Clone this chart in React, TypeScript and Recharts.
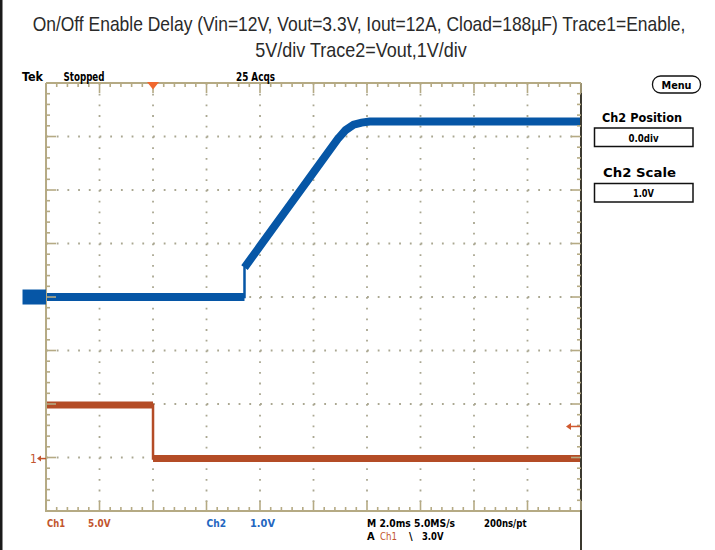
import React from "react";
import { CartesianGrid, Line, LineChart, XAxis, YAxis } from "recharts";

// scope capture, time in ms from left edge of graticule (2 ms/div)
const enableTimeMs = [0, 4.0, 4.0, 20];
const enableVolts = [5.0, 5.0, 0, 0];

const voutTimeMs = [0, 7.42, 7.42, 8.0, 9.0, 10.0, 10.9, 11.2, 11.5, 11.8, 12.1, 20];
const voutVolts = [0, 0, 0.55, 0.95, 1.64, 2.33, 2.95, 3.12, 3.22, 3.26, 3.28, 3.28];

const gridTimeTicks = [2, 4, 6, 8, 10, 12, 14, 16, 18];
const gridVoltTicks = [-3, -2, -1, 0, 1, 2, 3];
const triggerTimeMs = [4];
const triggerLevelV = [3.0];
const groundV = [0];

const titleLine1 = "On/Off Enable Delay (Vin=12V, Vout=3.3V, Iout=12A, Cload=188µF) Trace1=Enable,";
const titleLine2 = "5V/div Trace2=Vout,1V/div";

const FRAME = "#b5aa84";
const DOTS = "#aaa791";
const BLUE = "#0656a6";
const ORANGE = "#b44c26";
const ORANGE_TXT = "#c2552d";
const BLUE_TXT = "#2466c0";
const SCOPE_FONT = "'DejaVu Sans Condensed', 'Liberation Sans Narrow', sans-serif";
const TITLE_FONT = "'Liberation Sans Narrow', 'Liberation Sans', sans-serif";

const W = 715;
const H = 550;
const MARGIN = { top: 83, right: 134, bottom: 39, left: 46 };
const X_DOMAIN: [number, number] = [0, 20];
const CH2_DOMAIN: [number, number] = [-4, 4];
const CH1_DOMAIN: [number, number] = [-4.9, 35.1];
const THIN = 0.01; // axes take no room but still render

const frameTimeTicks = Array.from({ length: 51 }, (_, i) => Math.round(i * 0.4 * 100) / 100);
const frameVoltTicks = Array.from({ length: 41 }, (_, i) => Math.round((-4 + i * 0.2) * 100) / 100);

function toRows(ts: number[], vs: number[]) {
  return ts.map((t, i) => ({ t, v: vs[i] }));
}

// thick noise band, broken at vertical edges so the edge itself stays thin
function toBandRows(ts: number[], vs: number[]) {
  const rows: { t: number; v: number | null }[] = [];
  ts.forEach((t, i) => {
    if (i > 0 && t === ts[i - 1]) rows.push({ t, v: null });
    rows.push({ t, v: vs[i] });
  });
  return rows;
}

const enableRows = toRows(enableTimeMs, enableVolts);
const enableBand = toBandRows(enableTimeMs, enableVolts);
const voutRows = toRows(voutTimeMs, voutVolts);
const voutBand = toBandRows(voutTimeMs, voutVolts);

function isMajor(v: number, div: number) {
  const r = v / div;
  return Math.abs(r - Math.round(r)) < 1e-6;
}

function frameTick(side: "top" | "bottom" | "left" | "right", div: number) {
  return (p: any) => {
    const { x, y, payload } = p;
    const len = isMajor(payload.value, div) ? 10 : 4;
    const dx = side === "left" ? len : side === "right" ? -len : 0;
    const dy = side === "top" ? len : side === "bottom" ? -len : 0;
    return <line x1={x} y1={y} x2={x + dx} y2={y + dy} stroke={FRAME} strokeWidth={1.6} />;
  };
}

const triggerMark = (p: any) => (
  <polygon points={`${p.x - 6},${p.y - 1} ${p.x + 6},${p.y - 1} ${p.x},${p.y + 6.5}`} fill="#f0682f" />
);

const ch1Ground = (p: any) => (
  <g>
    <text x={p.x - 16} y={p.y + 4.5} fontSize={12} fontFamily={SCOPE_FONT} fill={ORANGE_TXT}>1</text>
    <polygon points={`${p.x - 9},${p.y} ${p.x - 5},${p.y - 3} ${p.x - 5},${p.y + 3}`} fill={ORANGE_TXT} />
    <line x1={p.x - 6} y1={p.y} x2={p.x} y2={p.y} stroke={ORANGE_TXT} strokeWidth={1.5} />
  </g>
);

const ch2Ground = (p: any) => <rect x={p.x - 23.5} y={p.y - 7.5} width={23.5} height={15} fill={BLUE} />;

const trigLevel = (p: any) => (
  <g>
    <polygon points={`${p.x - 15},${p.y} ${p.x - 10},${p.y - 3.5} ${p.x - 10},${p.y + 3.5}`} fill="#d05a30" />
    <line x1={p.x - 11} y1={p.y} x2={p.x - 1} y2={p.y} stroke="#d05a30" strokeWidth={1.5} />
  </g>
);

// bottom graticule edge, same geometry as the plot area
function BottomFrame() {
  const plotW = W - MARGIN.left - MARGIN.right;
  const yb = H - MARGIN.bottom;
  const sx = (t: number) => MARGIN.left + ((t - X_DOMAIN[0]) / (X_DOMAIN[1] - X_DOMAIN[0])) * plotW;
  return (
    <g>
      <line x1={MARGIN.left - 1} y1={yb} x2={MARGIN.left + plotW} y2={yb} stroke={FRAME} strokeWidth={2} />
      {frameTimeTicks.map((t) => (
        <line key={t} x1={sx(t)} y1={yb} x2={sx(t)} y2={yb - (isMajor(t, 2) ? 10 : 4)}
          stroke={FRAME} strokeWidth={1.6} />
      ))}
    </g>
  );
}

function ScopeText(props: any) {
  const { children, ...rest } = props;
  return (
    <text fontFamily={SCOPE_FONT} fontWeight="bold" fontSize={11} lengthAdjust="spacingAndGlyphs" {...rest}>
      {children}
    </text>
  );
}

export default function App() {
  const axisCommon = { tickSize: 0, tickMargin: 0, tickLine: false, interval: 0 as const, allowDataOverflow: true };
  return (
    <div style={{ position: "absolute", left: 0, top: 0, width: W, height: H, background: "#fff" }}>
      <LineChart width={W} height={H} margin={MARGIN}>
        <XAxis
          xAxisId="top"
          orientation="top"
          type="number"
          dataKey="t"
          domain={X_DOMAIN}
          ticks={frameTimeTicks}
          height={THIN}
          axisLine={{ stroke: FRAME, strokeWidth: 2 }}
          tick={frameTick("top", 2)}
          {...axisCommon}
        />
        <XAxis
          xAxisId="trig"
          orientation="top"
          type="number"
          dataKey="t"
          domain={X_DOMAIN}
          ticks={triggerTimeMs}
          height={THIN}
          axisLine={false}
          tick={triggerMark}
          {...axisCommon}
        />
        <XAxis xAxisId="t" orientation="top" type="number" dataKey="t" domain={X_DOMAIN}
          height={THIN} hide allowDataOverflow />
        <XAxis xAxisId="grid" orientation="top" type="number" dataKey="t" domain={X_DOMAIN} ticks={gridTimeTicks}
          height={THIN} hide allowDataOverflow />

        <YAxis
          yAxisId="ch2"
          type="number"
          domain={CH2_DOMAIN}
          ticks={frameVoltTicks}
          width={THIN}
          axisLine={{ stroke: FRAME, strokeWidth: 2 }}
          tick={frameTick("left", 1)}
          {...axisCommon}
        />
        <YAxis
          yAxisId="ch2r"
          orientation="right"
          type="number"
          domain={CH2_DOMAIN}
          ticks={frameVoltTicks}
          width={THIN}
          axisLine={{ stroke: "#3b392f", strokeWidth: 2 }}
          tick={frameTick("right", 1)}
          {...axisCommon}
        />
        <YAxis
          yAxisId="ch2mark"
          type="number"
          domain={CH2_DOMAIN}
          ticks={groundV}
          width={THIN}
          axisLine={false}
          tick={ch2Ground}
          {...axisCommon}
        />
        <YAxis
          yAxisId="ch1"
          type="number"
          domain={CH1_DOMAIN}
          ticks={groundV}
          width={THIN}
          axisLine={false}
          tick={ch1Ground}
          {...axisCommon}
        />
        <YAxis
          yAxisId="ch1r"
          orientation="right"
          type="number"
          domain={CH1_DOMAIN}
          ticks={triggerLevelV}
          width={THIN}
          axisLine={false}
          tick={trigLevel}
          {...axisCommon}
        />
        <YAxis yAxisId="grid" orientation="right" type="number" domain={CH2_DOMAIN} ticks={gridVoltTicks}
          width={THIN} hide allowDataOverflow />

        <CartesianGrid
          xAxisId="grid"
          yAxisId="grid"
          stroke={DOTS}
          strokeWidth={1.8}
          strokeDasharray="1.8 8.9"
        />

        <Line xAxisId="t" yAxisId="ch1" data={enableRows} dataKey="v" type="linear" stroke={ORANGE}
          strokeWidth={2.5} dot={false} activeDot={false} isAnimationActive={false} />
        <Line xAxisId="t" yAxisId="ch1" data={enableBand} dataKey="v" type="linear" stroke={ORANGE}
          strokeWidth={7} dot={false} activeDot={false} isAnimationActive={false} />
        <Line xAxisId="t" yAxisId="ch2" data={voutRows} dataKey="v" type="linear" stroke={BLUE}
          strokeWidth={2.5} dot={false} activeDot={false} isAnimationActive={false} />
        <Line xAxisId="t" yAxisId="ch2" data={voutBand} dataKey="v" type="linear" stroke={BLUE}
          strokeWidth={8} dot={false} activeDot={false} isAnimationActive={false} />
      </LineChart>

      <svg width={W} height={H} style={{ position: "absolute", left: 0, top: 0, pointerEvents: "none" }}>
        <rect x={0} y={0} width={2.5} height={H} fill="#1a1a1a" />
        <BottomFrame />
        <line x1={581} y1={H - MARGIN.bottom - 1} x2={581} y2={H} stroke="#3b392f" strokeWidth={2} />

        <g transform="translate(359,30.5) scale(0.86,1)">
          <text x={0} y={0} textAnchor="middle" fontFamily={TITLE_FONT} fontSize={20} fill="#2a2a2a"
            textLength={759} lengthAdjust="spacingAndGlyphs">{titleLine1}</text>
        </g>
        <g transform="translate(361,56.5) scale(0.86,1)">
          <text x={0} y={0} textAnchor="middle" fontFamily={TITLE_FONT} fontSize={20} fill="#2a2a2a"
            textLength={246} lengthAdjust="spacingAndGlyphs">{titleLine2}</text>
        </g>

        <ScopeText x={22} y={80.5} fontSize={12} textLength={21}>Tek</ScopeText>
        <ScopeText x={63.5} y={80.5} fontSize={12} textLength={41}>Stopped</ScopeText>
        <ScopeText x={236} y={80.5} fontSize={12} textLength={39}>25 Acqs</ScopeText>

        <ScopeText x={47} y={527} fill={ORANGE_TXT} textLength={18}>Ch1</ScopeText>
        <ScopeText x={88} y={527} fill={ORANGE_TXT} textLength={22.5}>5.0V</ScopeText>
        <ScopeText x={206.5} y={527} fill={BLUE_TXT} textLength={19.5}>Ch2</ScopeText>
        <ScopeText x={250} y={527} fill={BLUE_TXT} textLength={25}>1.0V</ScopeText>
        <ScopeText x={367} y={527} textLength={88}>M 2.0ms 5.0MS/s</ScopeText>
        <ScopeText x={484} y={527} textLength={42.5}>200ns/pt</ScopeText>
        <ScopeText x={367} y={540}>A</ScopeText>
        <ScopeText x={380} y={540} fill={ORANGE_TXT} fontWeight="normal" textLength={17}>Ch1</ScopeText>
        <ScopeText x={409} y={540}>\</ScopeText>
        <ScopeText x={422} y={540} textLength={21.5}>3.0V</ScopeText>

        <rect x={652.5} y={76} width={48} height={17} rx={8} fill="#fff" stroke="#111" strokeWidth={1.3} />
        <ScopeText x={676.5} y={88.5} fontSize={10} textAnchor="middle" textLength={30}>Menu</ScopeText>

        <ScopeText x={602} y={121.5} fontSize={12} textLength={80}>Ch2 Position</ScopeText>
        <rect x={594.5} y={128} width={98.5} height={18.5} fill="#fff" stroke="#111" strokeWidth={1.5} />
        <ScopeText x={643.5} y={141.5} fontSize={10} textAnchor="middle" textLength={30}>0.0div</ScopeText>

        <ScopeText x={603} y={176.5} fontSize={12} textLength={73}>Ch2 Scale</ScopeText>
        <rect x={594.5} y={183.5} width={98.5} height={18.5} fill="#fff" stroke="#111" strokeWidth={1.5} />
        <ScopeText x={643.5} y={197} fontSize={10} textAnchor="middle" textLength={21}>1.0V</ScopeText>
      </svg>
    </div>
  );
}
